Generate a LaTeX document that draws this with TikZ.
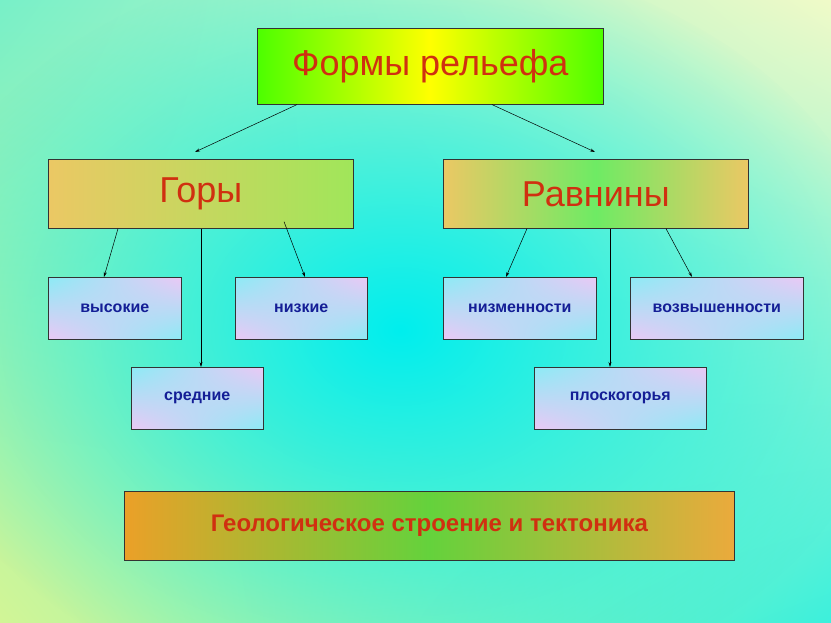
\documentclass[tikz,border=0pt]{standalone}
\usepackage{fontspec}
\setmainfont{Liberation Sans}
\usetikzlibrary{fadings,shadings,arrows.meta}
\tikzfading[name=myfade,inner color=transparent!0,outer color=transparent!100]
\definecolor{tred}{RGB}{208,48,16}
\definecolor{tblue}{RGB}{20,30,150}
\definecolor{bgul}{RGB}{120,240,200}
\definecolor{bgur}{RGB}{240,250,200}
\definecolor{bgll}{RGB}{210,245,150}
\definecolor{bglr}{RGB}{60,240,220}
\definecolor{bgc}{RGB}{0,238,238}
\definecolor{org}{RGB}{235,200,100}
\definecolor{lgr}{RGB}{160,230,90}
\definecolor{mgr}{RGB}{110,235,100}
\definecolor{org2}{RGB}{235,160,40}
\definecolor{org3}{RGB}{235,170,60}
\definecolor{ggr}{RGB}{100,210,60}
\definecolor{sc}{RGB}{140,235,245}
\definecolor{sp}{RGB}{235,200,245}
\begin{document}
\begin{tikzpicture}[x=1pt,y=-1pt,
  box/.style={draw=black!80,line width=0.6pt,inner sep=0pt,anchor=north west},
  big/.style={box,font=\fontsize{36}{40}\selectfont,text=tred},
  small/.style={box,font=\bfseries\fontsize{16}{18}\selectfont,text=tblue,
     upper left=sc,lower left=sp,upper right=sp,lower right=sc},
  arr/.style={-{Stealth[length=5pt,width=3pt]},line width=0.5pt}]
\useasboundingbox (0,0) rectangle (831,623);
\shade[upper left=bgul,upper right=bgur,lower left=bgll,lower right=bglr] (0,0) rectangle (831,623);
\fill[bgc,path fading=myfade] (400,330) ellipse (500 and 380);
\node[big,minimum width=346,minimum height=76,left color=green!70!yellow,right color=green!70!yellow,middle color=yellow] (top) at (257,28) {Формы рельефа};
\node[big,minimum width=305,minimum height=69,left color=org,right color=lgr] (gory) at (48,159) {Горы};
\node[big,minimum width=305,minimum height=69,left color=org,right color=org,middle color=mgr] (ravn) at (443,159) {Равнины};
\node[small,minimum width=133,minimum height=62] (vys) at (48,277) {высокие};
\node[small,minimum width=132,minimum height=62] (niz) at (235,277) {низкие};
\node[small,minimum width=153,minimum height=62] (nizm) at (443,277) {низменности};
\node[small,minimum width=173,minimum height=62] (vozv) at (630,277) {возвышенности};
\node[small,minimum width=132,minimum height=62] (sred) at (131,367) {средние};
\node[small,minimum width=172,minimum height=62] (plos) at (534,367) {плоскогорья};
\node[box,minimum width=610,minimum height=69,font=\bfseries\fontsize{24}{28}\selectfont,text=tred,
  left color=org2,right color=org3,middle color=ggr] (geo) at (124,491) {Геологическое строение и тектоника};
\coordinate (t1) at (195,152); \coordinate (t2) at (595,152);
\draw[arr] ([xshift=40]top.south west) -- (t1);
\draw[arr] ([xshift=235]top.south west) -- (t2);
\draw[arr] ([xshift=70]gory.south west) -- ([xshift=56]vys.north west);
\draw[arr] ([xshift=153]gory.south west) -- ([xshift=70]sred.north west);
\draw[arr] ([xshift=236,yshift=7]gory.south west) -- ([xshift=70]niz.north west);
\draw[arr] ([xshift=84]ravn.south west) -- ([xshift=63]nizm.north west);
\draw[arr] ([xshift=167]ravn.south west) -- ([xshift=76]plos.north west);
\draw[arr] ([xshift=223]ravn.south west) -- ([xshift=62]vozv.north west);
\end{tikzpicture}
\end{document}
